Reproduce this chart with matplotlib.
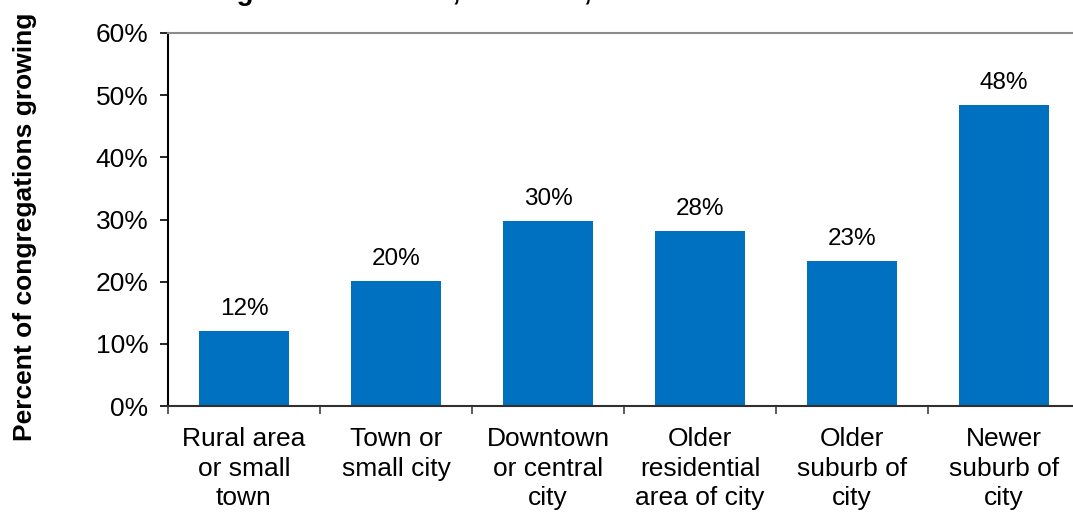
import numpy as np
import matplotlib
matplotlib.use("Agg")
import matplotlib.pyplot as plt

plt.rcParams['font.family'] = ['Liberation Sans', 'DejaVu Sans']

# share of growing congregations by location
locations = ['Rural area\nor small\ntown', 'Town or\nsmall city', 'Downtown\nor central\ncity',
             'Older\nresidential\narea of city', 'Older\nsuburb of\ncity', 'Newer\nsuburb of\ncity']
pct_growing = [12.1, 20.1, 29.8, 28.2, 23.4, 48.4]
yticks = [0, 10, 20, 30, 40, 50, 60]

bar_color = '#0070C0'

fig = plt.figure(figsize=(10.73, 5.12), dpi=100)
ax = fig.add_axes([168/1073, 106/512, 912/1073, 373/512])

x = np.arange(len(locations))
ax.bar(x, pct_growing, width=0.59, color=bar_color, zorder=2)

# value labels above each bar
for xi, v in zip(x, pct_growing):
    ax.annotate('%.0f%%' % v, (xi, v), xytext=(0, 11.5), textcoords='offset points',
                ha='center', va='baseline', fontsize=17.5)

ax.set_xlim(-0.5, len(locations) - 0.5)
ax.set_ylim(0, 60)
ax.set_yticks(yticks)
ax.set_yticklabels(['%d%%' % t for t in yticks], fontsize=19)
ax.tick_params(axis='y', direction='out', length=6, width=1.2, color='black', pad=8)

# labels centred under bars, tick marks between categories
ax.set_xticks(x)
ax.set_xticklabels(locations, fontsize=19, linespacing=1.3, va='top')
ax.tick_params(axis='x', which='major', length=0, pad=15)
ax.set_xticks(np.arange(len(locations) + 1) - 0.5, minor=True)
ax.tick_params(axis='x', which='minor', direction='out', length=6, width=1.2, color='#404040')

ax.spines['left'].set_color('black')
ax.spines['left'].set_linewidth(1.5)
ax.spines['bottom'].set_color('#303030')
ax.spines['bottom'].set_linewidth(1.5)
ax.spines['top'].set_color('#8c8c8c')
ax.spines['top'].set_linewidth(1.5)
ax.spines['right'].set_visible(False)

fig.text(25/1073, 1 - 227/512, 'Percent of congregations growing', rotation=90,
         ha='center', va='center', fontsize=19, fontweight='bold')

# title sits mostly above the top edge
fig.text(212/1073, 1.0, 'Figure 7: Location, Location, Location', ha='left', va='baseline',
         fontsize=20, fontweight='bold')

fig.savefig('out.png', dpi=100)
